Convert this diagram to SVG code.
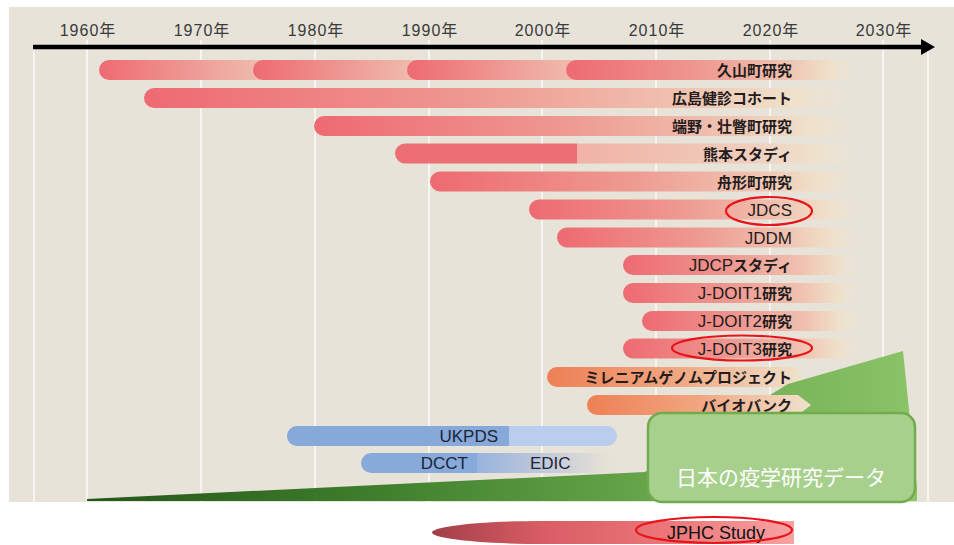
<svg xmlns="http://www.w3.org/2000/svg" width="954" height="545" viewBox="0 0 954 545">
<style>
.yr{font-family:"Liberation Sans","Noto Sans CJK JP",sans-serif;font-size:16px;fill:#3a3a3a;text-anchor:middle;letter-spacing:1px}
.lb{font-family:"Liberation Sans","Noto Sans CJK JP",sans-serif;font-size:17px;fill:#241c1c;text-anchor:end}
.jp{font-family:"Noto Sans CJK JP",sans-serif;font-size:15px;font-weight:bold}
.bl{font-family:"Liberation Sans",sans-serif;font-size:17px;fill:#1c2436}
.vl{stroke:#ffffff;stroke-width:1.3}
.ring{fill:none;stroke:#e8141a;stroke-width:2.2}
</style>
<defs>
<linearGradient id="pinkFade" x1="0" y1="0" x2="1" y2="0">
<stop offset="0" stop-color="#ee6a72"/>
<stop offset="0.45" stop-color="#ee9890"/>
<stop offset="0.75" stop-color="#f0c2b0"/>
<stop offset="0.9" stop-color="#f0e0c8" stop-opacity="0.9"/>
<stop offset="1" stop-color="#efe8d6" stop-opacity="0"/>
</linearGradient>
<linearGradient id="pinkSeg" x1="0" y1="0" x2="1" y2="0">
<stop offset="0" stop-color="#ee6a72"/>
<stop offset="1" stop-color="#efc4b2"/>
</linearGradient>
<linearGradient id="lightFade" x1="0" y1="0" x2="1" y2="0">
<stop offset="0" stop-color="#f0b2a6"/>
<stop offset="0.6" stop-color="#f0cdbc"/>
<stop offset="0.85" stop-color="#f0e2cc" stop-opacity="0.9"/>
<stop offset="1" stop-color="#efe8d6" stop-opacity="0"/>
</linearGradient>
<linearGradient id="orangeFade" x1="0" y1="0" x2="1" y2="0">
<stop offset="0" stop-color="#ee8055"/>
<stop offset="0.5" stop-color="#f0a680"/>
<stop offset="0.8" stop-color="#f0caae"/>
<stop offset="1" stop-color="#efe2cc"/>
</linearGradient>
<linearGradient id="edicGrad" x1="477" y1="0" x2="625" y2="0" gradientUnits="userSpaceOnUse">
<stop offset="0" stop-color="#98b3de"/>
<stop offset="0.5" stop-color="#c6cbd8"/>
<stop offset="0.85" stop-color="#e4e0d6"/>
<stop offset="1" stop-color="#e7e3d9" stop-opacity="0"/>
</linearGradient>
<linearGradient id="wedgeGrad" x1="87" y1="0" x2="917" y2="0" gradientUnits="userSpaceOnUse">
<stop offset="0" stop-color="#24561a"/>
<stop offset="0.35" stop-color="#3f7f2c"/>
<stop offset="0.7" stop-color="#6aa84c"/>
<stop offset="1" stop-color="#8cc468"/>
</linearGradient>
<linearGradient id="jphcGrad" x1="0" y1="0" x2="1" y2="0">
<stop offset="0" stop-color="#a23f48"/>
<stop offset="0.3" stop-color="#d85c64"/>
<stop offset="0.65" stop-color="#ec7679"/>
<stop offset="1" stop-color="#f8a2a2"/>
</linearGradient>
</defs>

<rect x="9" y="7" width="945" height="495" fill="#e7e3d9"/>

<g id="gridlines">
<line class="vl" x1="34" y1="44" x2="34" y2="502"/>
<line class="vl" x1="87" y1="40" x2="87" y2="502"/>
<line class="vl" x1="201" y1="40" x2="201" y2="502"/>
<line class="vl" x1="315" y1="40" x2="315" y2="502"/>
<line class="vl" x1="429" y1="40" x2="429" y2="502"/>
<line class="vl" x1="542" y1="40" x2="542" y2="502"/>
<line class="vl" x1="656" y1="40" x2="656" y2="502"/>
<line class="vl" x1="770" y1="40" x2="770" y2="502"/>
<line class="vl" x1="883" y1="40" x2="883" y2="502"/>
<line class="vl" x1="928" y1="44" x2="928" y2="502"/>
</g>

<g id="axis">
<line x1="33" y1="47" x2="924" y2="47" stroke="#000" stroke-width="4.5"/>
<polygon points="921,39 935,47 921,55" fill="#000"/>
<text class="yr" x="88" y="36">1960年</text>
<text class="yr" x="202" y="36">1970年</text>
<text class="yr" x="316" y="36">1980年</text>
<text class="yr" x="430" y="36">1990年</text>
<text class="yr" x="543" y="36">2000年</text>
<text class="yr" x="657" y="36">2010年</text>
<text class="yr" x="771" y="36">2020年</text>
<text class="yr" x="884" y="36">2030年</text>
</g>

<g id="hisayama">
<rect x="99" y="60" width="176" height="20" rx="10" fill="url(#pinkSeg)"/>
<rect x="253" y="60" width="176" height="20" rx="10" fill="url(#pinkSeg)"/>
<rect x="407" y="60" width="182" height="20" rx="10" fill="url(#pinkSeg)"/>
<rect x="566" y="60" width="294" height="20" rx="10" fill="url(#pinkFade)"/>
<text class="lb" x="792" y="76"><tspan class="jp">久山町研究</tspan></text>
</g>
<g id="hiroshima">
<rect x="144" y="88" width="718" height="20" rx="10" fill="url(#pinkFade)"/>
<text class="lb" x="792" y="104"><tspan class="jp">広島健診コホート</tspan></text>
</g>
<g id="tanno">
<rect x="314" y="116" width="548" height="20" rx="10" fill="url(#pinkFade)"/>
<text class="lb" x="792" y="132"><tspan class="jp">端野・壮瞥町研究</tspan></text>
</g>
<g id="kumamoto">
<rect x="577" y="143.5" width="285" height="20" fill="url(#lightFade)"/>
<path d="M577,143.5 H405 A10,10 0 0 0 405,163.5 H577 Z" fill="#ee6e76"/>
<text class="lb" x="792" y="159.5"><tspan class="jp">熊本スタディ</tspan></text>
</g>
<g id="funagata">
<rect x="430" y="171.5" width="432" height="20" rx="10" fill="url(#pinkFade)"/>
<text class="lb" x="792" y="187.5"><tspan class="jp">舟形町研究</tspan></text>
</g>
<g id="jdcs">
<rect x="529" y="199.5" width="333" height="20" rx="10" fill="url(#pinkFade)"/>
<text class="lb" x="792" y="215.5">JDCS</text>
<ellipse class="ring" cx="769" cy="211" rx="43" ry="14"/>
</g>
<g id="jddm">
<rect x="557" y="227.5" width="305" height="20" rx="10" fill="url(#pinkFade)"/>
<text class="lb" x="792" y="243.5">JDDM</text>
</g>
<g id="jdcp">
<rect x="623" y="255" width="239" height="20" rx="10" fill="url(#pinkFade)"/>
<text class="lb" x="792" y="271">JDCP<tspan class="jp">スタディ</tspan></text>
</g>
<g id="jdoit1">
<rect x="623" y="283" width="239" height="20" rx="10" fill="url(#pinkFade)"/>
<text class="lb" x="792" y="299">J-DOIT1<tspan class="jp">研究</tspan></text>
</g>
<g id="jdoit2">
<rect x="642" y="311" width="220" height="20" rx="10" fill="url(#pinkFade)"/>
<text class="lb" x="792" y="327">J-DOIT2<tspan class="jp">研究</tspan></text>
</g>
<g id="jdoit3">
<rect x="623" y="338.5" width="239" height="20" rx="10" fill="url(#pinkFade)"/>
<text class="lb" x="792" y="354.5">J-DOIT3<tspan class="jp">研究</tspan></text>
<ellipse class="ring" cx="742" cy="348" rx="70" ry="12.5"/>
</g>
<g id="millennium">
<rect x="547" y="367" width="255" height="20" rx="10" fill="url(#orangeFade)"/>
<text class="lb" x="792" y="383"><tspan class="jp">ミレニアムゲノムプロジェクト</tspan></text>
</g>

<g id="wedge">
<polygon points="87,499 645,472 765,398 788,384 903,351 917,488 917,501 87,501" fill="url(#wedgeGrad)"/>
</g>

<g id="biobank">
<path d="M597,395 H798 L811,405 L798,415 H597 A10,10 0 0 1 597,395 Z" fill="url(#orangeFade)"/>
<text class="lb" x="792" y="411"><tspan class="jp">バイオバンク</tspan></text>
</g>

<g id="ukpds">
<rect x="287" y="426" width="330" height="20" rx="10" fill="#bacdec"/>
<path d="M509,426 H297 A10,10 0 0 0 297,446 H509 Z" fill="#87a9da"/>
<text class="bl" x="498" y="442" text-anchor="end">UKPDS</text>
</g>
<g id="dcct-edic">
<rect x="477" y="453" width="148" height="20" fill="url(#edicGrad)"/>
<path d="M477,453 H371 A10,10 0 0 0 371,473 H477 Z" fill="#88aadb"/>
<text class="bl" x="468" y="469" text-anchor="end">DCCT</text>
<text class="bl" x="530" y="469">EDIC</text>
</g>

<g id="japan-box">
<rect x="648" y="413" width="267" height="89" rx="14" fill="#a8d08d" stroke="#72aa4e" stroke-width="2.5"/>
<text x="781" y="485" font-family="'Noto Sans CJK JP',sans-serif" font-size="21" fill="#ffffff" text-anchor="middle">日本の疫学研究データ</text>
</g>

<g id="jphc">
<path d="M794,521 H545 C475,521 432,527 432,532.5 C432,538 475,544 545,544 H794 Z" fill="url(#jphcGrad)"/>
<text x="716" y="539" font-family="'Liberation Sans',sans-serif" font-size="18" fill="#111" text-anchor="middle">JPHC Study</text>
<ellipse class="ring" cx="714" cy="530" rx="78" ry="13"/>
</g>
</svg>
